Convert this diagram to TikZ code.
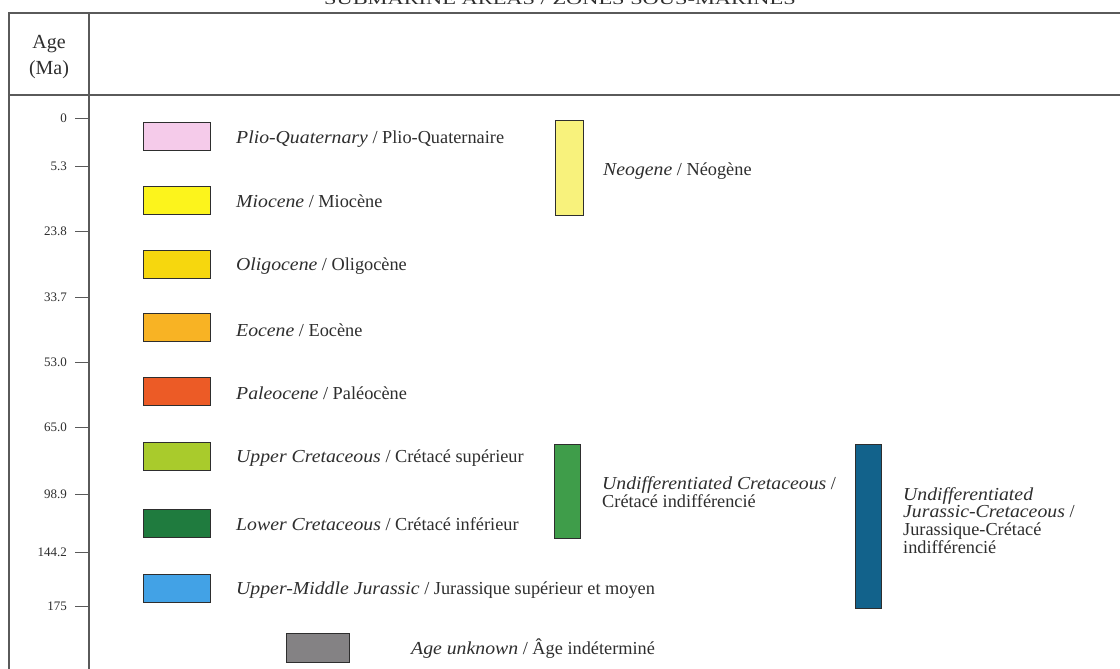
\documentclass[tikz,border=0pt]{standalone}
\usepackage{fontspec}
\setmainfont{Liberation Serif}[ItalicFeatures={FakeStretch=1.08}]
\definecolor{inkc}{HTML}{2E2E2E}
\definecolor{framec}{HTML}{5A5A5A}
\definecolor{cPlio}{HTML}{F5CBEA}
\definecolor{cMio}{HTML}{FCF41C}
\definecolor{cOlig}{HTML}{F6D70E}
\definecolor{cEoc}{HTML}{F8B324}
\definecolor{cPal}{HTML}{EC5B26}
\definecolor{cUCret}{HTML}{A9CB2C}
\definecolor{cLCret}{HTML}{1F7B3E}
\definecolor{cJur}{HTML}{42A2E6}
\definecolor{cUnk}{HTML}{848284}
\definecolor{cNeo}{HTML}{F8F27C}
\definecolor{cUCr}{HTML}{3F9D4A}
\definecolor{cJC}{HTML}{12628B}
\tikzset{
  frame/.style={draw=framec, line width=1.6pt},
  tickmark/.style={draw=framec, line width=1pt},
  agelbl/.style={anchor=east, inner sep=0pt, text=inkc, font=\fontsize{13}{14}\selectfont},
  swatch/.style={draw=inkc, line width=1pt, inner sep=0pt, minimum width=67pt, minimum height=28pt},
  barbox/.style={draw=inkc, line width=1pt, inner sep=0pt},
  lbl/.style={anchor=west, inner sep=0pt, text=inkc, font=\fontsize{18.3}{18}\selectfont},
  mlbl/.style={anchor=west, inner sep=0pt, text=inkc, align=left, font=\fontsize{18.3}{17.8}\selectfont},
}
\begin{document}
\begin{tikzpicture}[x=1pt,y=-1pt]
\useasboundingbox (0,0) rectangle (1120,669);
\fill[white] (0,0) rectangle (1120,669);
% title, cut off at the top edge as in the reference
\begin{scope}
\clip (0,0) rectangle (1120,669);
\node[anchor=base, inner sep=0pt, text=inkc, font=\fontsize{16}{16}\selectfont, xscale=1.4] (title) at (560,4.5) {SUBMARINE AREAS / ZONES SOUS-MARINES};
\end{scope}
% frame
\coordinate (tl) at (9,13);
\coordinate (tr) at (1120,13);
\coordinate (bl) at (9,669);
\coordinate (dt) at (89,13);
\coordinate (db) at (89,669);
\coordinate (hl) at (9,95);
\coordinate (hr) at (1120,95);
\draw[frame] (tr) -- (tl) -- (bl);
\draw[frame] (dt) -- (db);
\draw[frame] (hl) -- (hr);
\node[inner sep=0pt, text=inkc, align=center, font=\fontsize{20}{26}\selectfont] (agehdr) at (49,57) {Age\\(Ma)};
% ticks
\foreach \v/\y [count=\i] in {0/118,5.3/166,23.8/231,33.7/297,53.0/362,65.0/427,98.9/494,144.2/552,175/606}{
  \coordinate (ta\i) at (75,\y);
  \coordinate (tb\i) at (89,\y);
  \draw[tickmark] (ta\i) -- (tb\i);
  \node[agelbl] (age\i) at (67,\y) {\v};
}
% swatches
\node[swatch, fill=cPlio]  (s1) at (176.5,136) {};
\node[swatch, fill=cMio]   (s2) at (176.5,200) {};
\node[swatch, fill=cOlig]  (s3) at (176.5,264.5) {};
\node[swatch, fill=cEoc]   (s4) at (176.5,327.5) {};
\node[swatch, fill=cPal]   (s5) at (176.5,391.5) {};
\node[swatch, fill=cUCret] (s6) at (176.5,456.5) {};
\node[swatch, fill=cLCret] (s7) at (176.5,523) {};
\node[swatch, fill=cJur]   (s8) at (176.5,588.5) {};
\node[swatch, fill=cUnk, minimum width=63pt, minimum height=29pt] (s9) at (318,647.5) {};
\node[lbl] (l1) at (236,139) {\textit{Plio-Quaternary} / Plio-Quaternaire};
\node[lbl] (l2) at (236,201) {\textit{Miocene} / Miocène};
\node[lbl] (l3) at (236,266) {\textit{Oligocene} / Oligocène};
\node[lbl] (l4) at (236,330) {\textit{Eocene} / Eocène};
\node[lbl] (l5) at (236,393) {\textit{Paleocene} / Paléocène};
\node[lbl] (l6) at (236,458) {\textit{Upper Cretaceous} / Crétacé supérieur};
\node[lbl] (l7) at (236,524) {\textit{Lower Cretaceous} / Crétacé inférieur};
\node[lbl] (l8) at (236,590) {\textit{Upper-Middle Jurassic} / Jurassique supérieur et moyen};
\node[lbl] (l9) at (411,649) {\textit{Age unknown} / Âge indéterminé};
% bars
\node[barbox, fill=cNeo, minimum width=28pt, minimum height=95pt] (b1) at (569,167.5) {};
\node[lbl] (bl1) at (603,171) {\textit{Neogene} / Néogène};
\node[barbox, fill=cUCr, minimum width=26pt, minimum height=94pt] (b2) at (567,491) {};
\node[mlbl] (bl2) at (602,492) {\textit{Undifferentiated Cretaceous} /\\Crétacé indifférencié};
\node[barbox, fill=cJC, minimum width=26pt, minimum height=164pt] (b3) at (868,526) {};
\node[mlbl] (bl3) at (903,520.5) {\textit{Undifferentiated}\\\textit{Jurassic-Cretaceous} /\\Jurassique-Crétacé\\indifférencié};
\end{tikzpicture}
\end{document}
